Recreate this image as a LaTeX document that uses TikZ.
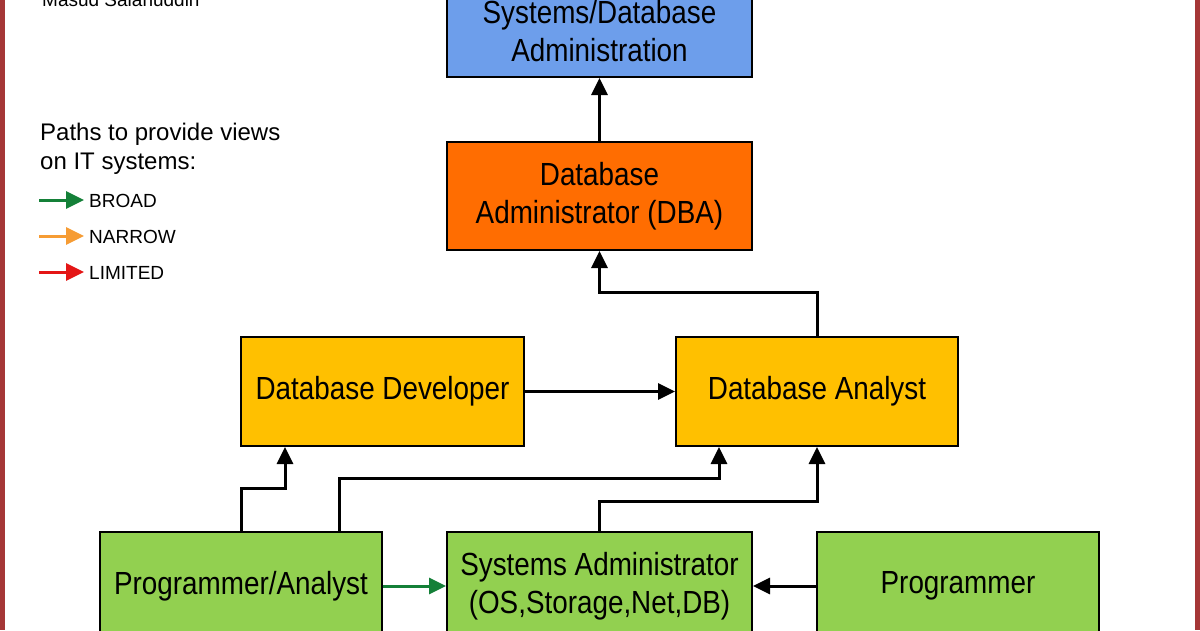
\documentclass[tikz,border=0pt]{standalone}
\usepackage{fontspec}
\setmainfont{Liberation Sans}
\newfontfamily\narrowfont[FakeStretch=0.87]{Liberation Sans}
\usetikzlibrary{arrows.meta}
\definecolor{bluebox}{RGB}{109,158,235}
\definecolor{orangebox}{RGB}{255,109,1}
\definecolor{yellowbox}{RGB}{255,192,0}
\definecolor{greenbox}{RGB}{146,208,80}
\definecolor{arrgreen}{RGB}{20,128,56}
\definecolor{arrorange}{RGB}{246,156,52}
\definecolor{arrred}{RGB}{228,22,22}
\definecolor{borderred}{RGB}{165,55,55}
\begin{document}
\begin{tikzpicture}[x=1pt,y=-1pt,
  box/.style={draw=black, line width=2pt, inner sep=0pt, align=center,
    font=\narrowfont\fontsize{32}{38}\selectfont},
  conn/.style={line width=3pt, -{Triangle[length=17pt,width=16pt]}},
  legarrow/.style={line width=3pt, -{Triangle[length=18pt,width=17pt]}},
  legtext/.style={anchor=base west, inner sep=0pt, font=\fontsize{19}{22}\selectfont},
  titletext/.style={anchor=base west, inner sep=0pt, font=\fontsize{24}{29}\selectfont}
]
\useasboundingbox (0,0) rectangle (1200,630);
\fill[white] (0,0) rectangle (1200,630);
% side borders
\draw[borderred, line width=4.5pt] (2.5,0) -- (2.5,630);
\draw[borderred, line width=4.5pt] (1197.5,0) -- (1197.5,630);

% author
\node[anchor=base west, inner sep=0pt, font=\fontsize{19}{22}\selectfont] (author) at (42,6) {Masud Salahuddin};

% legend
\node[titletext] (t1) at (40,140) {Paths to provide views};
\node[titletext] (t2) at (40,169) {on IT systems:};
\coordinate (g1) at (39,200); \coordinate (g2) at (84,200);
\coordinate (o1) at (39,236); \coordinate (o2) at (84,236);
\coordinate (r1) at (39,272); \coordinate (r2) at (84,272);
\draw[legarrow, arrgreen] (g1) -- (g2);
\draw[legarrow, arrorange] (o1) -- (o2);
\draw[legarrow, arrred] (r1) -- (r2);
\node[legtext] (broad) at (89,207) {BROAD};
\node[legtext] (narrow) at (89,243) {NARROW};
\node[legtext] (limited) at (89,279) {LIMITED};

% boxes
\node[box, fill=bluebox, minimum width=305pt, minimum height=92pt] (sda) at (599.5,31) {Systems/Database\\Administration};
\node[box, fill=orangebox, minimum width=305pt, minimum height=108pt] (dba) at (599.5,196) {Database\\Administrator (DBA)};
\node[box, fill=yellowbox, minimum width=283pt, minimum height=109pt] (dev) at (382.5,391.5) {Database Developer};
\node[box, fill=yellowbox, minimum width=282pt, minimum height=109pt] (ana) at (817,391.5) {Database Analyst};
\node[box, fill=greenbox, minimum width=282pt, minimum height=108pt] (pa) at (241,586) {Programmer/Analyst};
\node[box, fill=greenbox, minimum width=305pt, minimum height=108pt] (sa) at (599.5,586) {Systems Administrator\\(OS,Storage,Net,DB)};
\node[box, fill=greenbox, minimum width=282pt, minimum height=108pt] (pr) at (958,586) {Programmer};

% connectors
\draw[conn] (dba.north) -- (sda.south);
\draw[conn] (ana.north) -- ++(0,-44) -| (dba.south);
\draw[conn] (dev.east) -- (ana.west);
\draw[conn] (pa.north) -- ++(0,-43) -| ([xshift=-97.5pt]dev.south);
\draw[conn] ([xshift=98pt]pa.north) -- ++(0,-53) -| ([xshift=-98pt]ana.south);
\draw[conn] (sa.north) -- ++(0,-30) -| (ana.south);
\draw[conn, arrgreen] (pa.east) -- (sa.west);
\draw[conn] (pr.west) -- (sa.east);
\end{tikzpicture}
\end{document}
